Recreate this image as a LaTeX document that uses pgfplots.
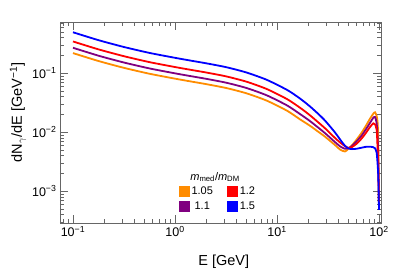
\documentclass[border=0pt]{standalone}
\usepackage{fontspec}
\setmainfont{Liberation Sans}
\usepackage{pgfplots}
\usepackage{pgfplotstable}
\pgfplotsset{compat=1.18}
\definecolor{cor}{RGB}{255,140,0}
\definecolor{cpu}{RGB}{128,0,128}
\definecolor{cre}{RGB}{255,0,0}
\definecolor{cbl}{RGB}{0,0,255}
% columns: log10(E/GeV)  log10(dN/dE)  for each series
\pgfplotstableread{
lx     ob      pu      re      bl
-1.00  -0.663  -0.573  -0.466  -0.310
-0.75  -0.797  -0.707  -0.600  -0.444
-0.50  -0.913  -0.823  -0.716  -0.560
-0.25  -1.013  -0.923  -0.816  -0.660
 0.00  -1.096  -1.006  -0.899  -0.743
 0.146 -1.141  -1.051  -0.944  -0.788
 0.30  -1.187  -1.097  -0.990  -0.834
 0.50  -1.254  -1.164  -1.057  -0.901
 0.70  -1.344  -1.254  -1.147  -0.991
 0.90  -1.469  -1.379  -1.272  -1.116
 1.10  -1.641  -1.551  -1.444  -1.288
 1.225 -1.785  -1.695  -1.588  -1.432
 1.32  -1.890  -1.810  -1.712  -1.562
 1.40  -1.990  -1.920  -1.830  -1.686
 1.471 -2.080  -2.020  -1.937  -1.807
 1.568 -2.220  -2.170  -2.100  -2.006
 1.62  -2.300  -2.245  -2.180  -2.130
 1.667 -2.330  -2.285  -2.240  -2.235
 1.70  -2.285  -2.275  -2.268  -2.278
 1.735 -2.225  -2.235  -2.255  -2.290
 1.78  -2.130  -2.160  -2.200  -2.284
 1.83  -2.010  -2.060  -2.110  -2.266
 1.87  -1.900  -1.960  -2.020  -2.252
 1.91  -1.780  -1.850  -1.920  -2.249
 1.944 -1.690  -1.760  -1.853  -2.258
 1.961 -1.666  -1.745  -1.870  -2.276
 1.977 -1.730  -1.850  -1.966  -2.350
 1.987 -1.850  -2.100  -2.300  -2.560
 1.993 -2.200  -2.450  -2.560  -2.760
 2.000 -3.300  -3.300  -3.300  -3.320
}\spectra
\begin{document}
\begin{tikzpicture}
\begin{axis}[
 xmode=log, ymode=log,
 scale only axis, width=321pt, height=201pt,
 xmin=0.0746, xmax=104.6, ymin=2.87e-4, ymax=0.731,
 axis line style={black!60},
 tick style={black!60},
 tick align=inside,
 major tick length=8pt, minor tick length=4pt,
 xtick={0.1,1,10,100},
 xticklabels={10\textsuperscript{−1},10\textsuperscript{0},10\textsuperscript{1},10\textsuperscript{2}},
 minor xtick={0.08,0.09,0.2,0.3,0.4,0.5,0.6,0.7,0.8,0.9,2,3,4,5,6,7,8,9,20,30,40,50,60,70,80,90},
 ytick={0.001,0.01,0.1},
 yticklabels={10\textsuperscript{−3},10\textsuperscript{−2},10\textsuperscript{−1}},
 minor ytick={0.0003,0.0004,0.0005,0.0006,0.0007,0.0008,0.0009,0.002,0.003,0.004,0.005,0.006,0.007,0.008,0.009,0.02,0.03,0.04,0.05,0.06,0.07,0.08,0.09,0.2,0.3,0.4,0.5,0.6,0.7},
 tick label style={font=\fontsize{12.5}{14}\selectfont},
 xlabel={E [GeV]},
 ylabel={dN\textsubscript{$\gamma$}/dE [GeV\textsuperscript{−1}]},
 label style={font=\fontsize{14.5}{17}\selectfont},
 xlabel style={at={(axis description cs:0.51,-0.195)}, anchor=center},
 ylabel style={at={(axis description cs:-0.131,0.55)}, anchor=center},
 every axis plot/.append style={line width=1.8pt, smooth, tension=0.4},
 legend columns=2, transpose legend,
 legend style={draw=none, fill=none, at={(axis description cs:0.36,0.2)}, anchor=north west,
   font=\fontsize{11}{13}\selectfont, row sep=1.5pt,
   /tikz/every even column/.append style={column sep=12pt}},
 legend image code/.code={\fill[#1] (0pt,-4.5pt) rectangle (9pt,4.5pt);},
]
\addplot[color=cor] table[x expr={10^\thisrow{lx}}, y expr={10^\thisrow{ob}}] {\spectra};
\addlegendentry{1.05}
\addplot[color=cpu] table[x expr={10^\thisrow{lx}}, y expr={10^\thisrow{pu}}] {\spectra};
\addlegendentry{1.1}
\addplot[color=cre] table[x expr={10^\thisrow{lx}}, y expr={10^\thisrow{re}}] {\spectra};
\addlegendentry{1.2}
\addplot[color=cbl] table[x expr={10^\thisrow{lx}}, y expr={10^\thisrow{bl}}] {\spectra};
\addlegendentry{1.5}
\node[font=\fontsize{11}{13}\selectfont] at (axis description cs:0.483,0.229)
  {\textit{m}\textsubscript{med}/\textit{m}\textsubscript{DM}};
\end{axis}
\pgfresetboundingbox
\path[use as bounding box] ([xshift=-60pt,yshift=-50pt]current axis.south west) rectangle ([xshift=13pt,yshift=22pt]current axis.north east);
\end{tikzpicture}
\end{document}
